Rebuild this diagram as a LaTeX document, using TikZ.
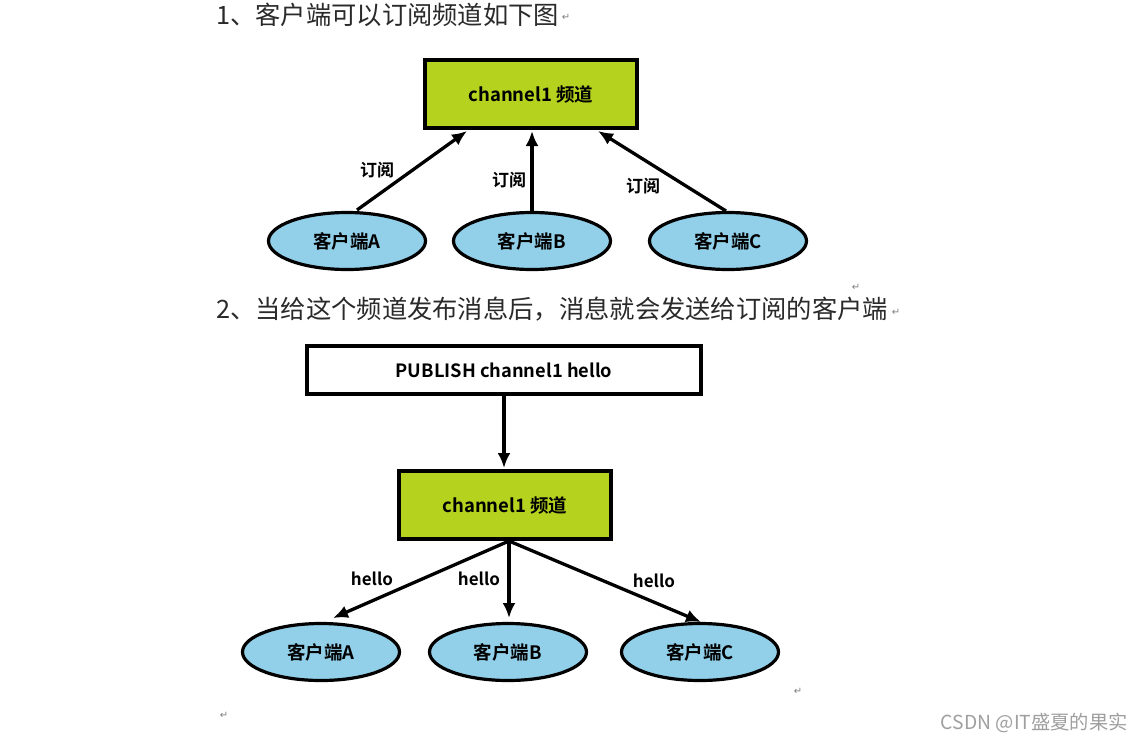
\documentclass[tikz,border=0pt]{standalone}
\usepackage{fontspec}
\setmainfont{Noto Sans CJK SC}
\newfontfamily\cjkb{Noto Sans CJK SC}[BoldFont={* Bold}]
\newfontfamily\cjkr{Noto Sans CJK SC}
\newfontfamily\dejav{DejaVu Sans}
\usetikzlibrary{shapes.geometric,arrows.meta}
\definecolor{chgreen}{HTML}{B4D21E}
\definecolor{cliblue}{HTML}{92D0EA}
\definecolor{headgray}{HTML}{2A2A2A}
\begin{document}
\begin{tikzpicture}[x=1pt,y=-1pt,
  chanbox/.style={draw=black,line width=4pt,fill=chgreen,minimum width=212pt,minimum height=68pt,inner sep=0pt,font=\cjkb\bfseries\fontsize{18.5}{20}\selectfont},
  pubbox/.style={draw=black,line width=3.5pt,fill=white,minimum width=394pt,minimum height=48pt,inner sep=0pt,font=\cjkb\bfseries\fontsize{18.3}{20}\selectfont},
  client/.style={ellipse,draw=black,line width=3.2pt,fill=cliblue,minimum width=157pt,minimum height=57pt,inner sep=0pt,font=\cjkb\bfseries\fontsize{18.5}{20}\selectfont},
  conn/.style={line width=3.3pt,-{Latex[length=15pt,width=13pt]}},
  lab/.style={font=\cjkb\bfseries\fontsize{17}{19}\selectfont,inner sep=0pt},
  head/.style={font=\cjkr\fontsize{25.3}{28}\selectfont,text=headgray,anchor=west,inner sep=0pt},
  retmark/.style={font=\dejav\fontsize{10}{11}\selectfont,text=gray,inner sep=0pt}]
\useasboundingbox (0,0) rectangle (1142,744);
\fill[white] (0,0) rectangle (1142,744);

% Part 1
\node[head] (h1) at (216,15) {1、客户端可以订阅频道如下图};
\node[retmark] (r1) at (566,17) {↵};

\node[chanbox] (ch1) at (531,94) {channel1 频道};
\node[client] (a1) at (347,241) {客户端A};
\node[client] (b1) at (532,241) {客户端B};
\node[client] (c1) at (728,241) {客户端C};

\coordinate (a1t) at (357,210);
\coordinate (ch1a) at (467,131);
\coordinate (b1t) at (532,211);
\coordinate (ch1b) at (532,131);
\coordinate (c1t) at (726,211);
\coordinate (ch1c) at (598,131);
\draw[conn] (a1t) -- (ch1a);
\draw[conn] (b1t) -- (ch1b);
\draw[conn] (c1t) -- (ch1c);
\node[lab] (s1) at (377,170) {订阅};
\node[lab] (s2) at (509,180) {订阅};
\node[lab] (s3) at (643,186) {订阅};

% Part 2
\node[retmark] (r2) at (856,287) {↵};
\node[head] (h2) at (216,309) {2、当给这个频道发布消息后，消息就会发送给订阅的客户端};
\node[retmark] (r3) at (896,312) {↵};

\node[pubbox] (pub) at (504,370) {PUBLISH channel1 hello};
\node[chanbox] (ch2) at (505,505) {channel1 频道};
\draw[conn] (pub.south -| 504,0) -- (504,468);

\node[client] (a2) at (321,652) {客户端A};
\node[client] (b2) at (508,652) {客户端B};
\node[client] (c2) at (700,652) {客户端C};

\coordinate (ch2o) at (509,541);
\coordinate (a2t) at (333,618);
\coordinate (b2t) at (509,618);
\coordinate (c2t) at (701,622);
\draw[conn] (ch2o) -- (a2t);
\draw[conn] (ch2o) -- (b2t);
\draw[conn] (ch2o) -- (c2t);
\node[lab] (l1) at (372,579) {hello};
\node[lab] (l2) at (479,579) {hello};
\node[lab] (l3) at (654,581) {hello};

\node[retmark] (r4) at (798,691) {↵};
\node[retmark] (r5) at (224,715) {↵};

\node[font=\cjkr\fontsize{19.3}{22}\selectfont,text=gray!75,anchor=east,inner sep=0pt] (wm) at (1128,723) {CSDN @IT盛夏的果实};
\end{tikzpicture}
\end{document}
